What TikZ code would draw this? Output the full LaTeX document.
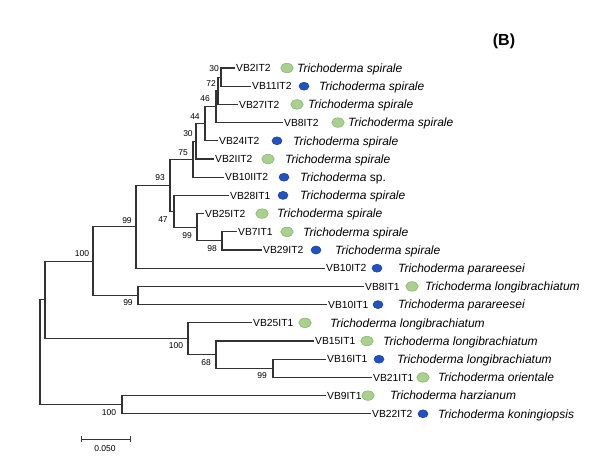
\documentclass[tikz,border=0pt]{standalone}
\usepackage{fontspec}
\setmainfont{Liberation Sans}
\usetikzlibrary{shapes.geometric}
\definecolor{dotgreen}{HTML}{A9D18E}
\definecolor{dotgreenedge}{HTML}{86B06A}
\definecolor{dotblue}{HTML}{2152C4}
\definecolor{dotblueedge}{HTML}{173E9A}
\tikzset{
  br/.style={draw=black!80, line width=1.1pt},
  idlab/.style={anchor=west, inner sep=1pt, font=\fontsize{10.3}{12}\selectfont, text height=7.4pt, text depth=0pt},
  splab/.style={anchor=west, inner sep=0pt, font=\fontsize{12}{14}\selectfont\itshape, text height=8.6pt, text depth=0pt},
  dotg/.style={ellipse, fill=dotgreen, draw=dotgreenedge, line width=0.5pt, minimum width=12.5pt, minimum height=9.5pt, inner sep=0pt},
  dotb/.style={ellipse, fill=dotblue, draw=dotblueedge, line width=0.5pt, minimum width=10pt, minimum height=8pt, inner sep=0pt},
  bslab/.style={inner sep=0pt, font=\fontsize{8.5}{9}\selectfont}
}
\newcommand{\myleaf}[8]{%
  \coordinate (#1) at (#3,#2);
  \node[idlab] (#1-id) at (#3,#2) {#4};
  \node[#6] (#1-dot) at (#5,#2) {};
  \node[splab] (#1-sp) at (#7,#2) {#8};
}
\begin{document}
\begin{tikzpicture}[x=1pt,y=-1pt]
\fill[white] (0,0) rectangle (611,459);
\useasboundingbox (0,0) rectangle (611,459);

% leaves
\myleaf{L0}{68}{235}{VB2IT2}{287}{dotg}{297}{Trichoderma spirale}
\myleaf{L1}{86.2}{251}{VB11IT2}{304}{dotb}{319}{Trichoderma spirale}
\myleaf{L2}{104.4}{238}{VB27IT2}{297}{dotg}{308}{Trichoderma spirale}
\myleaf{L3}{122.6}{283}{VB8IT2}{338}{dotg}{348}{Trichoderma spirale}
\myleaf{L4}{140.8}{218}{VB24IT2}{277}{dotb}{293}{Trichoderma spirale}
\myleaf{L5}{159}{214}{VB2IIT2}{268}{dotg}{285}{Trichoderma spirale}
\myleaf{L6}{177.2}{224}{VB10IIT2}{284}{dotb}{300}{Trichoderma \upshape sp.}
\myleaf{L7}{195.4}{229}{VB28IT1}{283}{dotb}{300}{Trichoderma spirale}
\myleaf{L8}{213.6}{204}{VB25IT2}{262}{dotg}{277}{Trichoderma spirale}
\myleaf{L9}{231.8}{237}{VB7IT1}{287}{dotg}{303}{Trichoderma spirale}
\myleaf{L10}{250}{262}{VB29IT2}{316}{dotb}{335}{Trichoderma spirale}
\myleaf{L11}{268.2}{325}{VB10IT2}{377}{dotb}{398}{Trichoderma parareesei}
\myleaf{L12}{286.4}{364}{VB8IT1}{412}{dotg}{425}{Trichoderma longibrachiatum}
\myleaf{L13}{304.6}{327}{VB10IT1}{378}{dotb}{398}{Trichoderma parareesei}
\myleaf{L14}{322.8}{252}{VB25IT1}{305}{dotg}{330}{Trichoderma longibrachiatum}
\myleaf{L15}{341}{314}{VB15IT1}{367}{dotg}{383}{Trichoderma longibrachiatum}
\myleaf{L16}{359.2}{326}{VB16IT1}{379}{dotb}{397}{Trichoderma longibrachiatum}
\myleaf{L17}{377.4}{372}{VB21IT1}{423}{dotg}{438}{Trichoderma orientale}
\myleaf{L18}{395.6}{326}{VB9IT1}{368}{dotg}{390}{Trichoderma harzianum}
\myleaf{L19}{413.8}{371}{VB22IT2}{423}{dotb}{438}{Trichoderma koningiopsis}

% internal nodes
\coordinate (a) at (221,77.1);
\coordinate (b) at (218,90.75);
\coordinate (c) at (216,106.7);
\coordinate (d) at (205,123.7);
\coordinate (e) at (196,141.4);
\coordinate (f) at (193,159.3);
\coordinate (i) at (222,240.9);
\coordinate (h) at (197,227.25);
\coordinate (g) at (174,211.3);
\coordinate (I) at (170,185.3);
\coordinate (H) at (136,226.75);
\coordinate (G) at (138,295.5);
\coordinate (C) at (93,261.1);
\coordinate (F) at (273,368.3);
\coordinate (E) at (216,354.65);
\coordinate (D) at (188,338.7);
\coordinate (A) at (45,299.9);
\coordinate (B) at (122,404.7);
\coordinate (R) at (40,352.3);

% branches
\draw[br] (a) |- (L0); \draw[br] (a) |- (L1);
\draw[br] (b) |- (a);  \draw[br] (b) |- (L2);
\draw[br] (c) |- (b);  \draw[br] (c) |- (L3);
\draw[br] (d) |- (c);  \draw[br] (d) |- (L4);
\draw[br] (e) |- (d);  \draw[br] (e) |- (L5);
\draw[br] (f) |- (e);  \draw[br] (f) |- (L6);
\draw[br] (i) |- (L9); \draw[br] (i) |- (L10);
\draw[br] (h) |- (L8); \draw[br] (h) |- (i);
\draw[br] (g) |- (L7); \draw[br] (g) |- (h);
\draw[br] (I) |- (f);  \draw[br] (I) |- (g);
\draw[br] (H) |- (I);  \draw[br] (H) |- (L11);
\draw[br] (G) |- (L12); \draw[br] (G) |- (L13);
\draw[br] (C) |- (H);  \draw[br] (C) |- (G);
\draw[br] (F) |- (L16); \draw[br] (F) |- (L17);
\draw[br] (E) |- (L15); \draw[br] (E) |- (F);
\draw[br] (D) |- (L14); \draw[br] (D) |- (E);
\draw[br] (A) |- (C);  \draw[br] (A) |- (D);
\draw[br] (B) |- (L18); \draw[br] (B) |- (L19);
\draw[br] (R) |- (A);  \draw[br] (R) |- (B);

% bootstrap values
\node[bslab] (bs-a) at (214,69) {30};
\node[bslab] (bs-b) at (211,84) {72};
\node[bslab] (bs-c) at (205,99) {46};
\node[bslab] (bs-d) at (195,117) {44};
\node[bslab] (bs-e) at (188,134) {30};
\node[bslab] (bs-f) at (183,153) {75};
\node[bslab] (bs-I) at (160,178) {93};
\node[bslab] (bs-g) at (163,220) {47};
\node[bslab] (bs-h) at (187,236) {99};
\node[bslab] (bs-i) at (212,249) {98};
\node[bslab] (bs-H) at (127,221) {99};
\node[bslab] (bs-C) at (82,254) {100};
\node[bslab] (bs-G) at (128,303) {99};
\node[bslab] (bs-D) at (176,346) {100};
\node[bslab] (bs-E) at (206,363) {68};
\node[bslab] (bs-F) at (262,376) {99};
\node[bslab] (bs-B) at (109,413) {100};

% scale bar
\coordinate (sb1) at (81,439);
\coordinate (sb2) at (130,439);
\draw[br, line width=0.8pt] (sb1) -- (sb2);
\draw[br, line width=0.8pt] ([yshift=-3pt]sb1) -- ([yshift=3pt]sb1);
\draw[br, line width=0.8pt] ([yshift=-3pt]sb2) -- ([yshift=3pt]sb2);
\node[bslab] (sbl) at (105,449) {0.050};

% panel label
\node[inner sep=0pt, font=\fontsize{16}{18}\selectfont\bfseries] (panel) at (504,41) {(B)};
\end{tikzpicture}
\end{document}
